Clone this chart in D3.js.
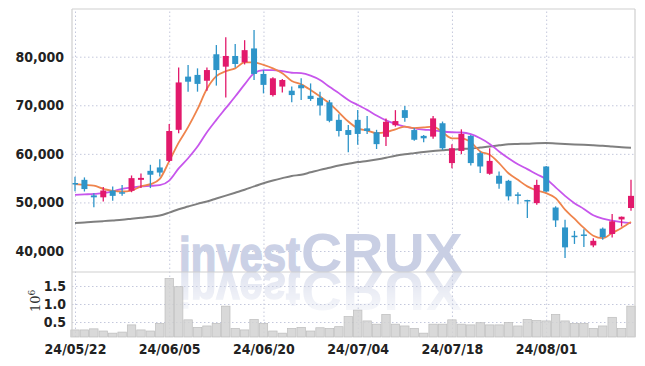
<!DOCTYPE html>
<html>
<head>
<script src="https://cdn.jsdelivr.net/npm/d3@7/dist/d3.min.js"></script>
<style>
	html, body { margin: 0; padding: 0; background: #fff; }
	.lbl { font-family: "Liberation Sans Narrow", "DejaVu Sans Condensed", "Liberation Sans", sans-serif; font-weight: bold; fill: #222; }
	.grid line { stroke: #c4c8dc; stroke-dasharray: 1.5,2.5; }
	.grid .domain { display: none; }
</style>
</head>
<body>
<div id="chart"></div>
<script>
	// trading days shown (yy/mm/dd)
	var dates = ["24/05/22","24/05/23","24/05/24","24/05/27","24/05/28","24/05/29","24/05/30","24/05/31",
		"24/06/03","24/06/04","24/06/05","24/06/07","24/06/10","24/06/11","24/06/12","24/06/13","24/06/14",
		"24/06/17","24/06/18","24/06/19","24/06/20","24/06/21","24/06/24","24/06/25","24/06/26","24/06/27",
		"24/06/28","24/07/01","24/07/02","24/07/03","24/07/04","24/07/05","24/07/08","24/07/09","24/07/10",
		"24/07/11","24/07/12","24/07/15","24/07/16","24/07/17","24/07/18","24/07/19","24/07/22","24/07/23",
		"24/07/24","24/07/25","24/07/26","24/07/29","24/07/30","24/07/31","24/08/01","24/08/02","24/08/05",
		"24/08/06","24/08/07","24/08/08","24/08/09","24/08/12","24/08/13","24/08/14"];
	var tickDates = ["24/05/22","24/06/05","24/06/20","24/07/04","24/07/18","24/08/01"];

	var opens  = [54000,54650,51450,51050,52450,52100,52400,54650,56500,57200,58550,64950,75900,76250,75050,80500,77950,80150,78850,81700,
		76450,72100,73850,73000,74150,71950,71550,70600,67000,64900,67000,65250,64450,63500,65900,69000,64900,63700,63550,66300,
		58100,60600,63700,60150,55900,55500,54450,51650,50500,49850,57400,48950,44850,43150,43400,41150,44600,43500,46500,48850];
	var highs  = [55300,55150,51900,53150,53300,53600,55550,55950,57750,58900,66150,77800,78300,77600,77800,82400,84000,82600,83400,85500,
		77250,75750,75400,73850,75550,74500,72800,71100,68150,65950,69050,67800,64950,67300,69000,69850,65300,63900,67800,66650,
		62000,65050,63900,60500,61150,56350,54650,52100,50550,54650,57500,49200,46450,44150,44500,42650,44850,47600,47100,54650];
	var lows   = [52300,52250,49000,50200,50350,51350,52100,52950,52950,55350,58300,64250,72800,72800,73000,74050,71600,77800,78400,75200,
		72450,71800,72650,70600,71100,70900,67900,66500,63550,60350,61850,64100,61000,61600,65600,66600,62700,62400,63100,60800,
		57050,59950,57600,56050,55700,52800,50400,49650,46800,49500,52100,44950,38550,41450,40800,40750,42300,42800,45050,48300];
	var closes = [53700,52750,51050,52450,51350,51800,55000,55050,55700,56150,64700,74700,74850,74400,77250,77250,80150,78500,81350,76450,
		74200,75550,75200,72100,73500,71300,69950,66800,64700,63900,64100,64700,62000,66600,66750,67400,62900,63200,67300,61150,
		61150,64100,58100,57400,58550,53850,51250,51350,50250,53600,52250,46300,40750,42850,43200,42100,42850,46100,47050,51350];

	var ma5 = [53750,53600,53450,52800,52400,52250,52450,53300,53750,54850,58500,62300,65500,69200,73400,76000,77000,77600,78850,78850,
		78300,77600,76600,75000,74300,73150,71800,70400,68550,66650,65250,64800,64250,64450,65050,65600,65300,65450,65600,64450,
		63200,63200,62400,60500,59800,58100,56000,54650,53300,52450,51900,50900,48500,46650,44750,43150,42650,43700,44750,45950];
	var ma20 = [51550,51650,51750,51900,52250,52800,53050,53300,53400,53550,54500,57000,59100,61500,64450,67000,69400,71800,74300,76600,
		77250,77250,77050,76700,76600,76100,75200,73800,72500,71100,70050,69050,67900,66900,66150,65600,65250,65000,64850,64600,
		64450,64400,64050,63200,62050,60500,59100,57850,56850,55800,54800,53100,51350,49850,48650,47350,46650,46250,45950,45750];
	var maLong = [45750,45850,46000,46150,46300,46450,46650,46850,47050,47300,47900,48600,49150,49700,50200,50800,51400,52000,52600,53300,
		53950,54500,55000,55450,55700,56200,56700,57150,57600,57950,58300,58550,58850,59200,59600,59900,60150,60400,60600,60750,
		60900,61000,61100,61300,61500,61750,62000,62050,62100,62200,62250,62150,62050,61950,61850,61750,61650,61500,61350,61250];

	// volume in millions of shares
	var volume = [0.28,0.28,0.31,0.25,0.19,0.22,0.42,0.28,0.25,0.46,1.71,1.48,0.56,0.35,0.39,0.46,0.94,0.32,0.28,0.57,
		0.46,0.25,0.19,0.32,0.35,0.25,0.34,0.32,0.37,0.65,0.83,0.53,0.44,0.71,0.44,0.39,0.32,0.19,0.44,0.44,
		0.56,0.44,0.42,0.48,0.42,0.42,0.49,0.39,0.57,0.54,0.53,0.71,0.53,0.46,0.46,0.32,0.39,0.63,0.32,0.94];

	var priceTicks = [40000,50000,60000,70000,80000];
	var volTicks = [0.5,1.0,1.5];

	var width = 645, height = 366;
	var left = 72, right = 635, topY = 9, split = 272, bottom = 337;
	var upColor = "#e2196b", downColor = "#2e95c9";

	var svg = d3.select('#chart').append('svg')
		.attr('width', width)
		.attr('height', height);

	var x = d3.scalePoint().domain(dates).range([75, 631]);
	var y = d3.scaleLinear().domain([40000, 80000]).range([251, 56.7]);
	var yv = d3.scaleLinear().domain([0, 1.5]).range([340, 286]);

	var defs = svg.append('defs');
	defs.append('clipPath').attr('id', 'priceClip').append('rect')
		.attr('x', left).attr('y', topY).attr('width', right - left).attr('height', split - topY);
	var grad = defs.append('linearGradient').attr('id', 'fade')
		.attr('gradientUnits', 'userSpaceOnUse').attr('x1', 0).attr('x2', 0).attr('y1', split).attr('y2', 326);
	grad.append('stop').attr('offset', 0).attr('stop-color', '#fff').attr('stop-opacity', 0.6);
	grad.append('stop').attr('offset', 1).attr('stop-color', '#fff').attr('stop-opacity', 0);
	defs.append('mask').attr('id', 'fadeMask').attr('maskUnits', 'userSpaceOnUse')
		.attr('x', 0).attr('y', split).attr('width', width).attr('height', bottom - split)
		.append('rect').attr('x', 0).attr('y', split).attr('width', width).attr('height', bottom - split)
		.attr('fill', 'url(#fade)');

	// grid lines
	svg.append('g').attr('class', 'grid')
		.attr('transform', 'translate(' + left + ',0)')
		.call(d3.axisLeft(y).tickValues(priceTicks).tickSize(-(right - left)).tickFormat(''));
	svg.append('g').attr('class', 'grid')
		.attr('transform', 'translate(' + left + ',0)')
		.call(d3.axisLeft(yv).tickValues(volTicks).tickSize(-(right - left)).tickFormat(''));
	svg.append('g').attr('class', 'grid')
		.attr('transform', 'translate(0,' + bottom + ')')
		.call(d3.axisBottom(x).tickValues(tickDates).tickSize(-(bottom - topY)).tickFormat(''));

	// watermark + its reflection
	function watermark(g) {
		g.append('text').attr('x', 179).attr('y', split)
			.attr('textLength', 121).attr('lengthAdjust', 'spacingAndGlyphs')
			.style('font', 'bold 50px "Liberation Sans", Arial, sans-serif')
			.style('fill', '#cbd1e6').style('stroke', '#cbd1e6').style('stroke-width', 1.5)
			.text('invest');
		g.append('text').attr('x', 301).attr('y', split)
			.attr('textLength', 162).attr('lengthAdjust', 'spacingAndGlyphs')
			.style('font', 'bold 56px "Liberation Sans", Arial, sans-serif')
			.style('fill', '#c9cfe4').text('CRUX');
	}
	svg.append('g').attr('clip-path', 'url(#priceClip)').call(watermark);
	svg.append('g').attr('mask', 'url(#fadeMask)')
		.append('g').attr('transform', 'translate(0,' + (2 * split) + ') scale(1,-1)')
		.call(watermark);

	// volume bars
	var step = x.step();
	svg.append('g').selectAll('rect')
		.data(volume)
		.enter().append('rect')
		.attr('x', function(d, i) { return x(dates[i]) - step / 2 + 0.5; })
		.attr('y', function(d) { return yv(d); })
		.attr('width', step - 1)
		.attr('height', function(d) { return bottom - yv(d); })
		.style('fill', 'rgba(210,210,210,0.85)')
		.style('stroke', '#bdbdbd')
		.style('stroke-width', 0.7);

	// moving averages
	function maLine(vals) {
		return d3.line()
			.x(function(d, i) { return x(dates[i]); })
			.y(function(d) { return y(d); })
			.curve(d3.curveMonotoneX)(vals);
	}
	var lines = svg.append('g').attr('clip-path', 'url(#priceClip)').style('fill', 'none');
	lines.append('path').attr('d', maLine(maLong)).style('stroke', '#7f7f7f').style('stroke-width', 2);
	lines.append('path').attr('d', maLine(ma20)).style('stroke', '#c756ec').style('stroke-width', 1.8);
	lines.append('path').attr('d', maLine(ma5)).style('stroke', '#ef844c').style('stroke-width', 1.8);

	// candles
	var candles = svg.append('g').selectAll('g')
		.data(dates)
		.enter().append('g');
	candles.append('line')
		.attr('x1', function(d) { return x(d); })
		.attr('x2', function(d) { return x(d); })
		.attr('y1', function(d, i) { return y(highs[i]); })
		.attr('y2', function(d, i) { return y(lows[i]); })
		.style('stroke', function(d, i) { return closes[i] >= opens[i] ? upColor : downColor; })
		.style('stroke-width', 1.3);
	candles.append('rect')
		.attr('x', function(d) { return x(d) - 3; })
		.attr('width', 6)
		.attr('y', function(d, i) { return y(Math.max(opens[i], closes[i])); })
		.attr('height', function(d, i) { return Math.max(1.5, Math.abs(y(opens[i]) - y(closes[i]))); })
		.style('fill', function(d, i) { return closes[i] >= opens[i] ? upColor : downColor; });

	// frame
	var frame = svg.append('g').style('stroke', '#cfcfcf').style('stroke-width', 1.2);
	frame.append('line').attr('x1', left).attr('x2', left).attr('y1', topY).attr('y2', bottom);
	frame.append('line').attr('x1', right).attr('x2', right).attr('y1', topY).attr('y2', bottom);
	frame.append('line').attr('x1', left).attr('x2', right).attr('y1', topY).attr('y2', topY);
	frame.append('line').attr('x1', left).attr('x2', right).attr('y1', split).attr('y2', split);

	// axis labels
	var yAxis = svg.append('g')
		.attr('transform', 'translate(' + left + ',0)')
		.call(d3.axisLeft(y).tickValues(priceTicks).tickSize(0).tickPadding(8).tickFormat(d3.format(',')));
	var vAxis = svg.append('g')
		.attr('transform', 'translate(' + left + ',0)')
		.call(d3.axisLeft(yv).tickValues(volTicks).tickSize(0).tickPadding(6).tickFormat(d3.format('.1f')));
	var xAxis = svg.append('g')
		.attr('transform', 'translate(0,' + bottom + ')')
		.call(d3.axisBottom(x).tickValues(tickDates).tickSize(0).tickPadding(7));
	[yAxis, vAxis, xAxis].forEach(function(a) {
		a.select('.domain').remove();
		a.selectAll('text').attr('class', 'lbl').style('font-size', '14px').style('fill', '#222');
	});

	var unit = svg.append('text')
		.attr('transform', 'translate(40,312) rotate(-90)')
		.style('font', '13px "DejaVu Serif", serif').style('fill', '#333');
	unit.append('tspan').text('10');
	unit.append('tspan').attr('dy', -5).style('font-size', '9px').text('6');
</script>
</body>
</html>
